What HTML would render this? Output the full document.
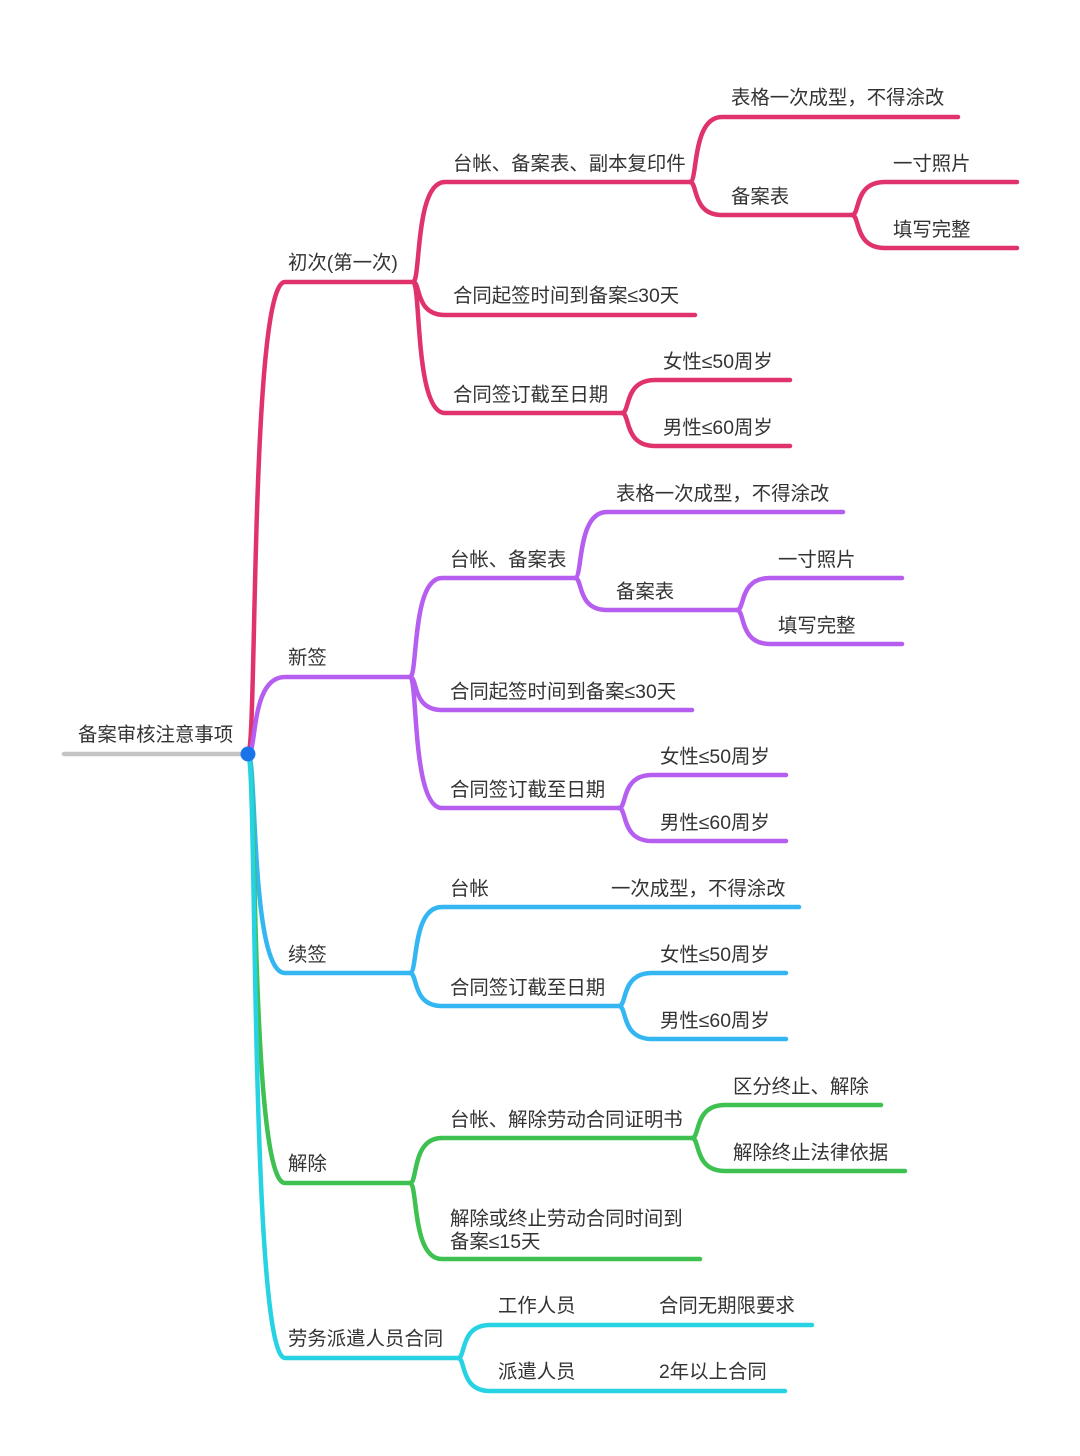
<!DOCTYPE html>
<html><head><meta charset="utf-8"><style>
html,body{margin:0;padding:0;background:#fff;}
svg{display:block}
text{font-family:"Liberation Sans","Noto Sans CJK SC",sans-serif;font-size:19.4px;fill:#333;}
</style></head><body>
<svg id="s" width="1080" height="1456" viewBox="0 0 1080 1456" xmlns="http://www.w3.org/2000/svg">
<g id="lines" fill="none" stroke-width="4.5" stroke-linecap="round"></g>
<circle cx="248" cy="754" r="7.5" fill="#1a73e8"/>
<g>
<text x="78" y="741">备案审核注意事项</text>
<text x="288" y="269">初次(第一次)</text>
<text x="453" y="170">台帐、备案表、副本复印件</text>
<text x="731" y="104">表格一次成型，不得涂改</text>
<text x="731" y="203">备案表</text>
<text x="893" y="170">一寸照片</text>
<text x="893" y="236">填写完整</text>
<text x="453" y="302">合同起签时间到备案≤30天</text>
<text x="453" y="401">合同签订截至日期</text>
<text x="663" y="368">女性≤50周岁</text>
<text x="663" y="434">男性≤60周岁</text>

<text x="288" y="664">新签</text>
<text x="450" y="566">台帐、备案表</text>
<text x="616" y="500">表格一次成型，不得涂改</text>
<text x="616" y="598">备案表</text>
<text x="778" y="566">一寸照片</text>
<text x="778" y="632">填写完整</text>
<text x="450" y="698">合同起签时间到备案≤30天</text>
<text x="450" y="796">合同签订截至日期</text>
<text x="660" y="763">女性≤50周岁</text>
<text x="660" y="829">男性≤60周岁</text>

<text x="288" y="961">续签</text>
<text x="450" y="895">台帐</text>
<text x="611" y="895">一次成型，不得涂改</text>
<text x="450" y="994">合同签订截至日期</text>
<text x="660" y="961">女性≤50周岁</text>
<text x="660" y="1027">男性≤60周岁</text>

<text x="288" y="1170">解除</text>
<text x="450" y="1126">台帐、解除劳动合同证明书</text>
<text x="733" y="1093">区分终止、解除</text>
<text x="733" y="1159">解除终止法律依据</text>
<text x="450" y="1225">解除或终止劳动合同时间到</text>
<text x="450" y="1248">备案≤15天</text>

<text x="288" y="1345">劳务派遣人员合同</text>
<text x="498" y="1312">工作人员</text>
<text x="659" y="1312">合同无期限要求</text>
<text x="498" y="1378">派遣人员</text>
<text x="659" y="1378">2年以上合同</text>
</g>
</svg>
<script>
var g=document.getElementById('lines');
function L(c,px,py,cx,cy,ex){
 var dx=cx-px;
 var d='M'+px+','+py+' C'+(px+dx*0.25)+','+py+' '+(px+dx*0.05)+','+cy+' '+cx+','+cy+' L'+ex+','+cy;
 var p=document.createElementNS('http://www.w3.org/2000/svg','path');
 p.setAttribute('d',d);p.setAttribute('stroke',c);g.appendChild(p);
}
var R='#e0336b',P='#b55ef0',B='#33b6f2',G='#3ec150',C='#27d3e3';
var gp=document.createElementNS('http://www.w3.org/2000/svg','path');
gp.setAttribute('d','M64,754 L248,754');gp.setAttribute('stroke','#c4c4c4');g.appendChild(gp);
L(R,248,754,285,282,413);
L(R,413,282,445,182,690);
L(R,690,182,722,117,958);
L(R,690,182,722,215,852);
L(R,852,215,885,182,1017);
L(R,852,215,885,248,1017);
L(R,413,282,445,315,695);
L(R,413,282,445,413,622);
L(R,622,413,655,380,790);
L(R,622,413,655,446,790);
L(P,248,754,285,677,410);
L(P,410,677,442,578,575);
L(P,575,578,607,512,843);
L(P,575,578,607,610,737);
L(P,737,610,770,578,902);
L(P,737,610,770,644,902);
L(P,410,677,442,710,692);
L(P,410,677,442,808,619);
L(P,619,808,652,775,786);
L(P,619,808,652,841,786);
L(B,248,754,285,973,410);
L(B,410,973,442,907,799);
L(B,410,973,442,1006,619);
L(B,619,1006,652,973,786);
L(B,619,1006,652,1039,786);
L(G,248,754,285,1183,410);
L(G,410,1183,442,1138,692);
L(G,692,1138,725,1105,881);
L(G,692,1138,725,1171,905);
L(G,410,1183,442,1259,700);
L(C,248,754,285,1358,458);
L(C,458,1358,490,1325,812);
L(C,458,1358,490,1391,785);
</script>
</body></html>
